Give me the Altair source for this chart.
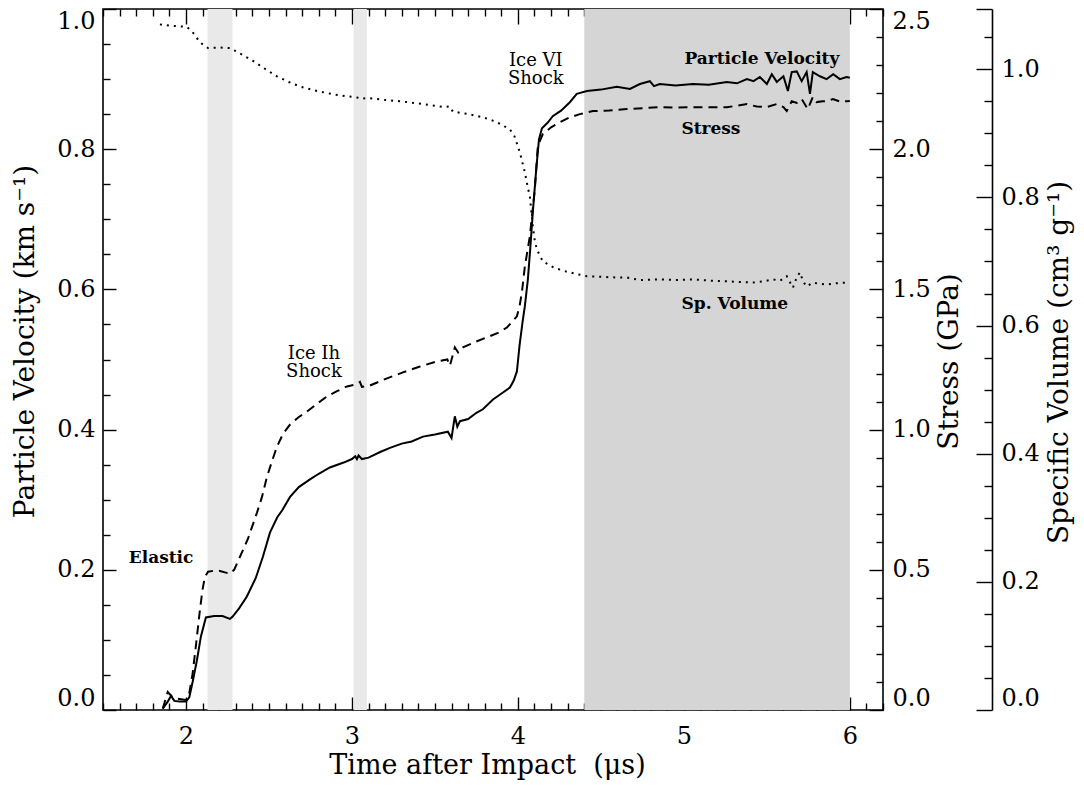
import altair as alt
import pandas as pd

# ---------------- data ----------------
pv_t = [1.86, 1.89, 1.91, 1.93, 1.96, 2.00, 2.02, 2.04, 2.066, 2.09, 2.12, 2.17, 2.22, 2.265, 2.28,
        2.32, 2.367, 2.42, 2.464, 2.506, 2.55, 2.58, 2.627, 2.68, 2.747, 2.80, 2.867, 2.95, 3.00,
        3.02, 3.03, 3.04, 3.06, 3.10, 3.17, 3.229, 3.30, 3.36, 3.428, 3.50, 3.578, 3.60, 3.62,
        3.635, 3.651, 3.70, 3.75, 3.789, 3.85, 3.91, 3.952, 3.975, 3.994, 4.01, 4.03, 4.042, 4.06,
        4.075, 4.09, 4.11, 4.127, 4.145, 4.18, 4.21, 4.26, 4.313, 4.355, 4.416, 4.50, 4.596, 4.675,
        4.735, 4.795, 4.82, 4.855, 4.95, 5.054, 5.15, 5.259, 5.32, 5.38, 5.42, 5.458, 5.50, 5.53,
        5.56, 5.60, 5.627, 5.65, 5.68, 5.71, 5.74, 5.76, 5.777, 5.82, 5.86, 5.90, 5.94, 5.98, 6.0]
pv_v = [0.002, 0.012, 0.020, 0.013, 0.012, 0.012, 0.018, 0.040, 0.071, 0.105, 0.132, 0.134, 0.134,
        0.130, 0.133, 0.145, 0.162, 0.188, 0.219, 0.253, 0.275, 0.285, 0.304, 0.318, 0.329, 0.337,
        0.346, 0.353, 0.358, 0.362, 0.358, 0.363, 0.358, 0.360, 0.368, 0.374, 0.380, 0.383, 0.390,
        0.393, 0.397, 0.388, 0.419, 0.404, 0.412, 0.415, 0.424, 0.429, 0.443, 0.453, 0.460, 0.470,
        0.483, 0.520, 0.557, 0.576, 0.614, 0.660, 0.710, 0.770, 0.814, 0.830, 0.838, 0.847, 0.855,
        0.867, 0.879, 0.883, 0.885, 0.889, 0.886, 0.893, 0.897, 0.890, 0.893, 0.891, 0.893, 0.892,
        0.896, 0.894, 0.900, 0.897, 0.903, 0.893, 0.907, 0.896, 0.904, 0.883, 0.910, 0.911, 0.897,
        0.910, 0.879, 0.910, 0.904, 0.900, 0.907, 0.900, 0.903, 0.902]

st_t = [1.86, 1.89, 1.92, 1.95, 2.00, 2.02, 2.04, 2.06, 2.084, 2.10, 2.114, 2.133, 2.17, 2.205,
        2.24, 2.265, 2.29, 2.325, 2.373, 2.428, 2.458, 2.488, 2.52, 2.548, 2.585, 2.627, 2.68,
        2.729, 2.79, 2.849, 2.91, 2.97, 3.03, 3.048, 3.06, 3.108, 3.20, 3.307, 3.41, 3.512, 3.575,
        3.59, 3.605, 3.62, 3.64, 3.669, 3.74, 3.813, 3.88, 3.934, 3.994, 4.01, 4.024, 4.042, 4.072,
        4.102, 4.12, 4.15, 4.20, 4.253, 4.31, 4.373, 4.452, 4.55, 4.657, 4.75, 4.855, 4.95, 5.054,
        5.15, 5.259, 5.32, 5.38, 5.44, 5.50, 5.56, 5.60, 5.62, 5.65, 5.68, 5.71, 5.747, 5.777,
        5.80, 5.837, 5.87, 5.898, 5.94, 5.982, 6.0]
st_s = [0.005, 0.064, 0.045, 0.040, 0.036, 0.060, 0.130, 0.230, 0.357, 0.430, 0.475, 0.493, 0.497,
        0.496, 0.490, 0.486, 0.500, 0.546, 0.610, 0.704, 0.760, 0.832, 0.890, 0.939, 0.985, 1.018,
        1.045, 1.064, 1.092, 1.118, 1.137, 1.154, 1.162, 1.170, 1.152, 1.157, 1.180, 1.204, 1.225,
        1.243, 1.250, 1.228, 1.260, 1.293, 1.275, 1.293, 1.312, 1.329, 1.345, 1.364, 1.404, 1.440,
        1.489, 1.582, 1.689, 1.857, 2.011, 2.054, 2.078, 2.096, 2.113, 2.125, 2.136, 2.138, 2.143,
        2.146, 2.150, 2.148, 2.150, 2.150, 2.150, 2.155, 2.161, 2.152, 2.150, 2.161, 2.150, 2.136,
        2.171, 2.165, 2.179, 2.143, 2.186, 2.168, 2.171, 2.172, 2.179, 2.170, 2.171, 2.172]

sv_t = [1.843, 1.90, 1.96, 2.006, 2.04, 2.084, 2.133, 2.20, 2.265, 2.33, 2.404, 2.48, 2.548, 2.62,
        2.687, 2.79, 2.886, 2.96, 3.03, 3.05, 3.10, 3.20, 3.289, 3.42, 3.548, 3.59, 3.608, 3.70,
        3.789, 3.87, 3.952, 3.98, 4.0, 4.02, 4.042, 4.06, 4.072, 4.09, 4.10, 4.114, 4.15, 4.22,
        4.295, 4.36, 4.416, 4.50, 4.596, 4.657, 4.735, 4.855, 4.95, 5.054, 5.16, 5.259, 5.34,
        5.416, 5.48, 5.536, 5.58, 5.62, 5.657, 5.68, 5.699, 5.72, 5.74, 5.777, 5.82, 5.86, 5.92,
        5.98, 6.0]
sv_v = [1.070, 1.068, 1.067, 1.066, 1.058, 1.042, 1.033, 1.034, 1.033, 1.024, 1.013, 1.000, 0.989,
        0.980, 0.973, 0.966, 0.961, 0.958, 0.956, 0.954, 0.955, 0.952, 0.950, 0.946, 0.941, 0.942,
        0.934, 0.930, 0.925, 0.918, 0.906, 0.895, 0.880, 0.862, 0.839, 0.815, 0.802, 0.755, 0.735,
        0.719, 0.700, 0.690, 0.684, 0.680, 0.677, 0.676, 0.675, 0.675, 0.671, 0.672, 0.671, 0.672,
        0.670, 0.669, 0.668, 0.667, 0.669, 0.672, 0.670, 0.677, 0.659, 0.675, 0.683, 0.668, 0.661,
        0.667, 0.665, 0.664, 0.666, 0.667, 0.666]

band_start = [2.13, 3.01, 4.40]
band_end = [2.28, 3.09, 6.00]
band_shade = ["light", "light", "dark"]

bold_text = ["Elastic", "Particle Velocity", "Stress", "Sp. Volume"]
bold_t = [1.85, 5.47, 5.163, 5.307]
bold_v = [0.217, 0.929, 0.829, 0.579]

plain_text = ["Ice Ih\nShock", "Ice VI\nShock"]
plain_t = [2.771, 4.108]
plain_v = [0.508, 0.926]

x_major = [2, 3, 4, 5, 6]
x_minor = [round(1.5 + 0.1 * i, 2) for i in range(48) if (i + 5) % 10 != 0]
v_major = [0.0, 0.2, 0.4, 0.6, 0.8, 1.0]
v_minor = [round(0.05 * i, 2) for i in range(21) if i % 4 != 0]
s_major = [0.0, 0.5, 1.0, 1.5, 2.0, 2.5]
s_minor = [round(0.1 * i, 2) for i in range(26) if i % 5 != 0]
w_major = [0.0, 0.2, 0.4, 0.6, 0.8, 1.0]
w_tick_extra = [1.094]
w_minor = [round(0.05 * i, 2) for i in range(22) if i % 4 != 0]

# ---------------- tables ----------------
pv_df = pd.DataFrame({"t": pv_t, "v": pv_v})
st_df = pd.DataFrame({"t": st_t, "s": st_s})
sv_df = pd.DataFrame({"t": sv_t, "w": sv_v})
band_df = pd.DataFrame({"a": band_start, "b": band_end, "shade": band_shade})
bold_df = pd.DataFrame({"label": bold_text, "t": bold_t, "v": bold_v})
plain_df = pd.DataFrame({"label": plain_text, "t": plain_t, "v": plain_v})

FONT = "DejaVu Serif"
X = alt.Scale(domain=[1.5, 6.2], nice=False, zero=False)
YV = alt.Scale(domain=[0, 1.0], nice=False, zero=False)
YS = alt.Scale(domain=[0, 2.5], nice=False, zero=False)
YW = alt.Scale(domain=[0, 1.094], nice=False, zero=False)


def tick_axis(orient, values, size, offset=0):
    # inward ticks: negative tick length given through an expression
    return alt.Axis(orient=orient, values=values, tickSize=alt.ExprRef(expr=str(-size)), offset=offset,
                    labels=False, domain=False, ticks=True, grid=False, title=None,
                    tickColor="black", tickWidth=1.4)


def axis_layer(x_axis=None, y_axis=None, yscale=YV):
    xa = alt.X("t:Q", scale=X, axis=x_axis) if x_axis is not None else alt.X("t:Q", scale=X, axis=None)
    ya = alt.Y("v:Q", scale=yscale, axis=y_axis) if y_axis is not None else alt.Y("v:Q", scale=yscale, axis=None)
    return alt.Chart(pv_df).mark_point(opacity=0, clip=True).encode(x=xa, y=ya)


bands = alt.Chart(band_df).mark_rect(opacity=1).encode(
    x=alt.X("a:Q", scale=X, axis=None),
    x2="b:Q",
    color=alt.Color("shade:N", scale=alt.Scale(domain=["light", "dark"], range=["#e9e9e9", "#d5d5d5"]),
                    legend=None),
)

vel = alt.Chart(pv_df).mark_line(color="black", strokeWidth=2).encode(
    x=alt.X("t:Q", scale=X, axis=None),
    y=alt.Y("v:Q", scale=YV, axis=None),
)
stress = alt.Chart(st_df).mark_line(color="black", strokeWidth=2, strokeDash=[9, 6]).encode(
    x=alt.X("t:Q", scale=X, axis=None),
    y=alt.Y("s:Q", scale=YS, axis=None),
)
vol = alt.Chart(sv_df).mark_line(color="black", strokeWidth=2, strokeDash=[2, 5]).encode(
    x=alt.X("t:Q", scale=X, axis=None),
    y=alt.Y("w:Q", scale=YW, axis=None),
)

bold_labels = alt.Chart(bold_df).mark_text(font=FONT, fontWeight="bold", fontSize=17, color="black").encode(
    x=alt.X("t:Q", scale=X, axis=None), y=alt.Y("v:Q", scale=YV, axis=None), text="label:N")
plain_labels = alt.Chart(plain_df).mark_text(font=FONT, fontSize=18, color="black", lineBreak="\n",
                                             lineHeight=18).encode(
    x=alt.X("t:Q", scale=X, axis=None), y=alt.Y("v:Q", scale=YV, axis=None), text="label:N")

# axes
bottom_lab = axis_layer(x_axis=alt.Axis(orient="bottom", values=x_major, ticks=False, domain=False, grid=False,
                                        labelPadding=14, format="d",
                                        title="Time after Impact\u00a0\u00a0(\u03bcs)", titleFontSize=27,
                                        titleX=384, titleY=55, titleBaseline="middle", titleAlign="center"))
bottom_maj = axis_layer(x_axis=tick_axis("bottom", x_major, 13))
bottom_min = axis_layer(x_axis=tick_axis("bottom", x_minor, 7))
top_maj = axis_layer(x_axis=tick_axis("top", x_major, 15))
top_min = axis_layer(x_axis=tick_axis("top", x_minor, 7))

left_lab = axis_layer(y_axis=alt.Axis(orient="left", values=v_major, ticks=False, domain=False, grid=False,
                                      labelPadding=8, format=".1f", labelFlush=True,
                                      title="Particle Velocity (km s\u207b\u00b9)",
                                      titleX=-78, titleY=332, titleAngle=270, titleBaseline="middle",
                                      titleAlign="center"))
left_maj = axis_layer(y_axis=tick_axis("left", v_major, 13))
left_min = axis_layer(y_axis=tick_axis("left", v_minor, 7))

st_lab = axis_layer(y_axis=alt.Axis(orient="right", values=s_major, ticks=False, domain=False, grid=False,
                                    labelPadding=9, format=".1f", labelFlush=True, title="Stress (GPa)",
                                    titleX=66, titleY=352, titleAngle=270, titleBaseline="middle",
                                    titleAlign="center"), yscale=YS)
st_maj = axis_layer(y_axis=tick_axis("right", s_major, 14), yscale=YS)
st_min = axis_layer(y_axis=tick_axis("right", s_minor, 7), yscale=YS)

w_lab = axis_layer(y_axis=alt.Axis(orient="right", values=w_major, ticks=False, domain=True, grid=False,
                                   domainColor="black", domainWidth=1.6, offset=109,
                                   labelPadding=9, format=".1f", labelFlush=True,
                                   title="Specific Volume (cm\u00b3 g\u207b\u00b9)",
                                   titleX=67, titleY=353, titleAngle=270, titleBaseline="middle",
                                   titleAlign="center"), yscale=YW)
w_maj = axis_layer(y_axis=tick_axis("right", w_major + w_tick_extra, 16, offset=109), yscale=YW)
w_min = axis_layer(y_axis=tick_axis("right", w_minor, 8, offset=109), yscale=YW)

chart = alt.layer(
    bands, vol, stress, vel, bold_labels, plain_labels,
    bottom_lab, bottom_maj, bottom_min, top_maj, top_min,
    left_lab, left_maj, left_min,
    st_lab, st_maj, st_min,
    w_lab, w_maj, w_min,
).resolve_scale(x="independent", y="independent").properties(
    width=780, height=701,
    autosize=alt.AutoSizeParams(type="none"),
    padding={"left": 103, "top": 9, "right": 201, "bottom": 78},
    background="white",
).configure_view(stroke="black", strokeWidth=1.6).configure_axis(
    labelFont=FONT, labelFontSize=24, labelColor="black",
    titleFont=FONT, titleFontSize=28, titleFontWeight="normal", titleColor="black",
)

chart.save("out.html", embed_options={"renderer": "svg", "actions": False})
